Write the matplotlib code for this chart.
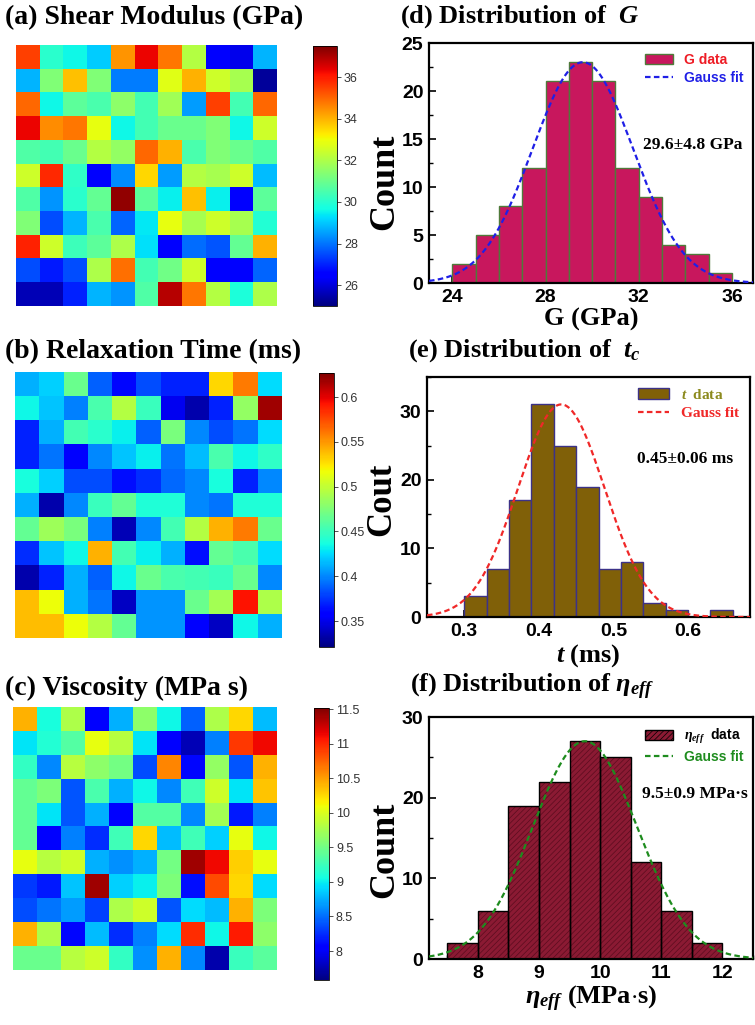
import numpy as np
import matplotlib
matplotlib.use("Agg")
import matplotlib.pyplot as plt
from matplotlib.ticker import MultipleLocator

plt.rcParams['mathtext.fontset'] = 'custom'
plt.rcParams['mathtext.rm'] = 'Liberation Serif:bold'
plt.rcParams['mathtext.it'] = 'Liberation Serif:italic:bold'
plt.rcParams['mathtext.bf'] = 'Liberation Serif:bold'
plt.rcParams['hatch.linewidth'] = 0.5

# ---- heat maps (11 x 11, rows as shown top -> bottom) ----
shear_map = [
    [35.5, 30.0, 29.6, 29.1, 34.4, 36.3, 34.8, 32.1, 26.5, 26.2, 28.8],
    [28.8, 31.3, 33.8, 31.3, 28.1, 28.1, 32.8, 34.0, 32.5, 31.9, 25.3],
    [35.0, 29.6, 30.8, 30.5, 31.5, 30.4, 31.8, 28.5, 35.5, 30.4, 35.0],
    [36.3, 34.5, 34.8, 32.9, 29.6, 30.4, 31.0, 31.0, 31.3, 29.6, 32.5],
    [30.6, 30.4, 31.0, 32.1, 31.6, 35.0, 34.0, 30.5, 31.3, 31.0, 30.6],
    [32.5, 35.8, 30.1, 26.5, 28.3, 33.5, 28.5, 32.1, 31.9, 32.5, 28.9],
    [30.6, 28.4, 30.0, 30.9, 37.3, 30.8, 29.5, 33.8, 29.5, 26.5, 30.8],
    [31.3, 27.5, 28.8, 30.5, 27.8, 29.4, 32.9, 31.9, 32.5, 31.9, 29.9],
    [35.9, 32.5, 30.3, 30.8, 32.0, 29.3, 26.5, 27.9, 27.6, 30.9, 34.0],
    [27.5, 26.9, 27.5, 32.0, 34.9, 30.4, 31.1, 32.5, 26.5, 26.5, 27.8],
    [25.6, 25.6, 27.0, 28.8, 28.4, 30.6, 36.9, 34.8, 32.1, 29.8, 32.0],
]
relax_map = [
    [0.413, 0.422, 0.468, 0.388, 0.361, 0.382, 0.370, 0.370, 0.529, 0.560, 0.425],
    [0.434, 0.419, 0.398, 0.456, 0.495, 0.450, 0.352, 0.333, 0.370, 0.483, 0.618],
    [0.370, 0.413, 0.453, 0.443, 0.431, 0.388, 0.474, 0.401, 0.382, 0.394, 0.425],
    [0.370, 0.394, 0.358, 0.401, 0.419, 0.431, 0.394, 0.416, 0.456, 0.434, 0.446],
    [0.437, 0.422, 0.382, 0.382, 0.364, 0.373, 0.391, 0.401, 0.437, 0.370, 0.401],
    [0.413, 0.333, 0.401, 0.450, 0.465, 0.440, 0.440, 0.401, 0.394, 0.440, 0.440],
    [0.465, 0.486, 0.474, 0.398, 0.336, 0.401, 0.453, 0.495, 0.541, 0.560, 0.468],
    [0.373, 0.419, 0.434, 0.541, 0.453, 0.431, 0.413, 0.364, 0.465, 0.456, 0.425],
    [0.333, 0.370, 0.413, 0.388, 0.434, 0.468, 0.456, 0.453, 0.450, 0.468, 0.401],
    [0.538, 0.517, 0.413, 0.394, 0.339, 0.404, 0.404, 0.468, 0.489, 0.593, 0.492],
    [0.538, 0.538, 0.517, 0.495, 0.465, 0.404, 0.404, 0.358, 0.339, 0.434, 0.413],
]
visc_map = [
    [10.42, 9.08, 9.79, 8.05, 8.76, 9.63, 9.04, 8.45, 9.79, 10.26, 8.80],
    [8.96, 9.12, 9.35, 10.06, 9.83, 8.96, 8.05, 7.78, 8.57, 10.93, 11.13],
    [9.20, 8.60, 9.83, 9.63, 9.51, 8.37, 10.61, 8.09, 9.67, 8.41, 10.42],
    [9.43, 9.55, 8.41, 9.31, 8.76, 9.04, 8.60, 9.27, 9.94, 8.96, 10.34],
    [9.43, 8.96, 8.41, 8.76, 8.05, 9.35, 9.35, 8.60, 9.75, 8.17, 8.57],
    [9.43, 8.05, 8.57, 8.25, 9.27, 10.26, 8.80, 9.27, 8.88, 10.06, 9.04],
    [10.06, 9.83, 9.94, 8.76, 8.64, 8.76, 9.51, 11.40, 11.13, 10.30, 10.06],
    [8.29, 8.17, 8.84, 11.40, 8.88, 9.00, 9.55, 8.13, 10.85, 10.26, 8.92],
    [8.37, 8.53, 8.68, 8.33, 9.79, 9.94, 8.41, 8.92, 8.80, 10.42, 9.55],
    [10.42, 9.79, 8.09, 8.80, 8.25, 8.57, 8.92, 10.97, 9.04, 11.05, 9.63],
    [9.47, 9.47, 9.83, 9.94, 9.20, 8.64, 10.42, 8.60, 7.74, 9.23, 9.39],
]
map_titles = ["(a) Shear Modulus (GPa)", "(b) Relaxation Time (ms)", "(c) Viscosity (MPa s)"]
map_ranges = [(25.0, 37.5), (0.321, 0.627), (7.58, 11.52)]
map_ticks = [[26, 28, 30, 32, 34, 36],
             [0.35, 0.4, 0.45, 0.5, 0.55, 0.6],
             [8, 8.5, 9, 9.5, 10, 10.5, 11, 11.5]]
map_ticklabels = [["26", "28", "30", "32", "34", "36"],
                  ["0.35", "0.4", "0.45", "0.5", "0.55", "0.6"],
                  ["8", "8.5", "9", "9.5", "10", "10.5", "11", "11.5"]]

# ---- histograms ----
G_edges = [24, 25, 26, 27, 28, 29, 30, 31, 32, 33, 34, 35, 36]
G_counts = [2, 5, 8, 12, 21, 23, 21, 12, 9, 4, 3, 1]
G_fit = (29.6, 2.16, 23.0)   # centre, sigma, amplitude

t_edges = [0.30, 0.33, 0.36, 0.39, 0.42, 0.45, 0.48, 0.51, 0.54, 0.57, 0.60, 0.63, 0.66]
t_counts = [3, 7, 17, 31, 25, 19, 7, 8, 2, 1, 0, 1]
t_fit = (0.43, 0.058, 31.0)

eta_edges = [7.5, 8.0, 8.5, 9.0, 9.5, 10.0, 10.5, 11.0, 11.5, 12.0]
eta_counts = [2, 6, 19, 22, 27, 25, 12, 6, 2]
eta_fit = (9.75, 0.854, 27.0)

W, H = 755, 1025
fig = plt.figure(figsize=(W / 100, H / 100), dpi=100)


def box(x0, y0, x1, y1):
    # pixel box -> figure fraction
    return [x0 / W, 1 - y1 / H, (x1 - x0) / W, (y1 - y0) / H]


map_boxes = [(16, 45, 277, 306), (15, 372, 282, 638), (13, 707, 277, 970)]
cbar_boxes = [(313, 46, 337, 306), (319, 373, 334, 647), (314, 708, 329, 980)]
title_y = [18, 352, 688]
maps = [shear_map, relax_map, visc_map]

for i in range(3):
    ax = fig.add_axes(box(*map_boxes[i]))
    im = ax.imshow(np.array(maps[i]), cmap='jet', vmin=map_ranges[i][0], vmax=map_ranges[i][1],
                   interpolation='nearest', aspect='auto')
    ax.axis('off')
    cax = fig.add_axes(box(*cbar_boxes[i]))
    cb = fig.colorbar(im, cax=cax)
    cb.set_ticks(map_ticks[i])
    cb.set_ticklabels(map_ticklabels[i])
    cb.outline.set_linewidth(0.6)
    cax.tick_params(labelsize=9, length=3, width=0.6, pad=2, colors='#333333')
    for lab in cax.get_yticklabels():
        lab.set_family('Liberation Sans')
    fig.text(5 / W, 1 - title_y[i] / H, map_titles[i], family='Liberation Serif', weight='bold',
             fontsize=20, va='center', ha='left')


def hist_panel(pbox, edges, counts, fit, fill, edge, curve_col, xlim, ylim, xmaj, xmin, ymaj, ymin, hatch=None):
    ax = fig.add_axes(box(*pbox))
    edges = np.array(edges)
    widths = np.diff(edges)
    if hatch:
        ax.bar(edges[:-1], counts, width=widths, align='edge', color=fill, edgecolor='#5a0c1e',
               hatch=hatch, linewidth=0, zorder=2)
        ax.bar(edges[:-1], counts, width=widths, align='edge', fill=False, edgecolor=edge,
               linewidth=1.0, zorder=3)
        bars = ax.bar([0], [0], color=fill, edgecolor=edge, hatch=hatch, linewidth=1.0)
    else:
        bars = ax.bar(edges[:-1], counts, width=widths, align='edge', color=fill, edgecolor=edge,
                      linewidth=1.0, zorder=2)
    xs = np.linspace(xlim[0], xlim[1], 300)
    mu, sig, amp = fit
    line, = ax.plot(xs, amp * np.exp(-(xs - mu) ** 2 / (2 * sig ** 2)), ls=(0, (2.5, 1.5)),
                    color=curve_col, lw=1.6, zorder=4)
    ax.set_xlim(*xlim)
    ax.set_ylim(*ylim)
    ax.xaxis.set_major_locator(MultipleLocator(xmaj))
    ax.xaxis.set_minor_locator(MultipleLocator(xmin))
    ax.yaxis.set_major_locator(MultipleLocator(ymaj))
    ax.yaxis.set_minor_locator(MultipleLocator(ymin))
    ax.tick_params(which='major', direction='in', length=5, width=1.2, labelsize=14, pad=4)
    ax.tick_params(which='minor', direction='in', length=3, width=1.0)
    for lab in ax.get_xticklabels() + ax.get_yticklabels():
        lab.set_family('Liberation Sans')
        lab.set_weight('bold')
    for s in ax.spines.values():
        s.set_linewidth(1.6)
    return ax, bars, line


serif = dict(family='Liberation Serif', weight='bold')

# (d)
ax, bars, line = hist_panel((429, 43, 753, 283), G_edges, G_counts, G_fit, '#c8175d', '#4f7a3a', '#1f1fe6',
                            (23, 36.9), (0, 25), 4, 1, 5, 2.5)
ax.set_xticks([24, 28, 32, 36])
for lab in ax.get_xticklabels():
    lab.set_family('Liberation Sans'); lab.set_weight('bold')
leg = ax.legend([bars, line], ["G data", "Gauss fit"], loc='upper right', frameon=False,
                prop=dict(family='Liberation Sans', weight='bold', size=10), handlelength=2.0,
                labelcolor=['#ee1c25', '#1f1fe6'], borderaxespad=0.3, labelspacing=0.3)
ax.text(0.815, 0.574, "29.6\u00b14.8 GPa", transform=ax.transAxes, ha='center', va='center', fontsize=12.5, **serif)
ax.set_ylabel("Count", fontsize=26, **serif)
ax.yaxis.set_label_coords(-0.085, 0.42)
ax.set_xlabel("G (GPa)", fontsize=19, labelpad=2, **serif)
fig.text(400 / W, 1 - 17 / H, r"(d) Distribution of  $\mathit{G}$", fontsize=19, va='center', ha='left', **serif)

# (e)
ax, bars, line = hist_panel((427, 377, 750, 617), t_edges, t_counts, t_fit, '#806008', '#3c3288', '#f02828',
                            (0.25, 0.683), (0, 35), 0.1, 0.05, 10, 5)
leg = ax.legend([bars, line], [r"$t$  data", "Gauss fit"], loc='upper right', frameon=False,
                prop=dict(family='Liberation Serif', weight='bold', size=11), handlelength=2.0,
                labelcolor=['#8c8a1e', '#f02828'], borderaxespad=0.3, labelspacing=0.3)
ax.text(0.80, 0.66, "0.45\u00b10.06 ms", transform=ax.transAxes, ha='center', va='center', fontsize=12.5, **serif)
ax.set_ylabel("Cout", fontsize=25, **serif)
ax.yaxis.set_label_coords(-0.088, 0.49)
ax.set_xlabel(r"$t$ (ms)", fontsize=19, labelpad=2, **serif)
fig.text(408 / W, 1 - 351 / H, r"(e) Distribution of  $t_c$", fontsize=19, va='center', ha='left', **serif)

# (f)
ax, bars, line = hist_panel((429, 717, 753, 959), eta_edges, eta_counts, eta_fit, '#8b1a33', 'black', '#1e8c1e',
                            (7.2, 12.5), (0, 30), 1, 0.5, 10, 5, hatch='//////')
leg = ax.legend([bars, line], [r"$\eta_{eff}$  data", "Gauss fit"], loc='upper right', frameon=False,
                prop=dict(family='Liberation Sans', weight='bold', size=10), handlelength=2.0,
                labelcolor=['black', '#1e8c1e'], borderaxespad=0.3, labelspacing=0.3)
ax.text(0.82, 0.68, "9.5\u00b10.9 MPa\u00b7s", transform=ax.transAxes, ha='center', va='center', fontsize=12.5, **serif)
ax.set_ylabel("Count", fontsize=26, **serif)
ax.yaxis.set_label_coords(-0.085, 0.45)
ax.set_xlabel(r"$\eta_{eff}$ (MPa$\cdot$s)", fontsize=19, labelpad=2, **serif)
fig.text(410 / W, 1 - 687 / H, r"(f) Distribution of $\eta_{eff}$", fontsize=19, va='center', ha='left', **serif)

fig.savefig("out.png", dpi=100)
